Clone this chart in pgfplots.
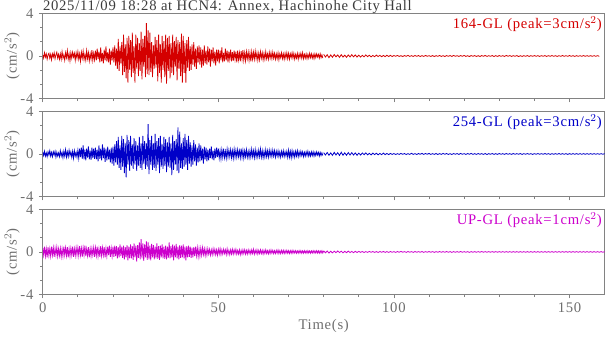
\documentclass[border=0pt]{standalone}
\usepackage{fontspec}
\setmainfont{Liberation Serif}[LetterSpace=5]
\usepackage{pgfplots}
\pgfplotsset{compat=1.18}
\definecolor{trred}{RGB}{212,0,0}
\definecolor{trblue}{RGB}{0,0,200}
\definecolor{trmag}{RGB}{204,0,204}
\definecolor{axgray}{RGB}{130,130,130}
\definecolor{lblgray}{RGB}{110,110,110}
\definecolor{ttlgray}{RGB}{60,60,60}
\pgfplotsset{
  panel/.style={
    scale only axis, width=421.5pt, height=63.75pt,
    xmin=0, xmax=160, ymin=-4, ymax=4,
    xtick={0,50,100,150}, minor x tick num=4,
    ytick={-4,0,4}, minor y tick num=2,
    xtick pos=bottom, ytick pos=left, tick align=outside,
    major tick length=3pt, minor tick length=2pt,
    axis line style={axgray, line width=0.6pt},
    every tick/.style={axgray, line width=0.6pt},
    tick label style={font=\fontsize{11}{12}\selectfont, text=lblgray},
    yticklabel style={xshift=-0.5pt},
    /pgf/number format/assume math mode=true,
    ylabel={(cm/s$^{2}$)},
    ylabel style={font=\fontsize{11}{12}\selectfont, text=lblgray, at={(axis description cs:-0.0546,0.5)}, anchor=center},
    clip mode=individual,
  },
}
\begin{document}
\begin{tikzpicture}
% ---------- Panel 1: 164-GL ----------
\begin{axis}[panel, at={(0,0)}, anchor=north west, xticklabels={}]
\addplot[trred, line width=0.6pt] table[x expr=\coordindex*0.25, y index=0, header=false] {
0.1
-0.2
0.3
-0.1
0.2
-0.3
0.1
0.25
-0.2
0.15
-0.35
0.2
-0.1
0.3
-0.25
0.1
0.35
-0.2
0.15
-0.3
0.2
-0.3
0.4
-0.2
0.1
-0.4
0.3
-0.15
0.5
-0.3
0.2
-0.45
0.3
-0.2
0.35
-0.1
0.25
-0.4
0.3
-0.2
0.4
-0.3
0.2
-0.5
0.35
-0.2
0.45
-0.35
0.15
-0.4
0.5
-0.25
0.3
-0.45
0.2
-0.3
0.55
-0.4
0.25
-0.35
0.5
-0.4
0.7
-0.3
0.4
-0.6
0.8
-0.5
0.3
-0.7
0.6
-0.4
0.9
-0.5
0.35
-0.6
0.7
-0.8
0.5
-0.4
0.8
-0.6
1.0
-0.9
0.7
-1.2
1.6
-1.4
0.9
-0.7
1.3
-1.8
2.0
-1.5
1.1
-2.1
1.7
-2.5
1.9
-1.3
1.5
-2.0
2.2
-1.6
0.9
-2.5
2.0
-1.2
1.7
-1.9
1.2
-1.4
2.3
-2.2
1.6
-1.0
1.9
-2.0
3.1
-1.7
2.4
-1.8
2.2
-1.5
1.3
-2.0
1.0
-1.2
1.8
-1.1
1.5
-2.4
2.0
-1.6
1.1
-2.5
1.9
-1.3
1.4
-2.0
2.0
-2.6
1.7
-1.4
1.9
-2.1
1.2
-1.6
2.0
-1.8
1.4
-1.0
1.8
-2.3
1.5
-1.2
1.3
-1.9
2.1
-2.5
1.9
-1.6
1.2
-2.5
1.5
-1.1
1.8
-1.4
0.9
-1.3
1.1
-0.8
1.3
-1.0
0.7
-1.2
0.9
-0.6
1.0
-0.8
0.8
-1.1
0.6
-0.9
1.0
-0.7
0.5
-0.8
0.9
-0.6
0.7
-1.0
0.6
-0.5
0.8
-0.7
0.4
-0.9
0.6
-0.5
0.6
-0.7
0.5
-0.4
0.8
-0.6
0.3
-0.5
0.7
-0.4
0.5
-0.6
0.4
-0.3
0.6
-0.5
0.35
-0.45
0.5
-0.3
0.4
-0.6
0.5
-0.35
0.3
-0.5
0.45
-0.3
0.55
-0.4
0.3
-0.45
0.4
-0.25
0.35
-0.4
0.3
-0.5
0.4
-0.3
0.35
-0.3
0.45
-0.25
0.3
-0.4
0.25
-0.35
0.4
-0.2
0.3
-0.35
0.25
-0.3
0.4
-0.25
0.2
-0.3
0.35
-0.2
0.3
-0.25
0.35
-0.2
0.25
-0.3
0.2
-0.25
0.3
-0.35
0.2
-0.15
0.3
-0.25
0.2
-0.3
0.25
-0.2
0.3
-0.25
0.25
-0.3
0.2
-0.15
0.3
-0.2
0.25
-0.3
0.15
-0.2
0.25
-0.3
0.2
-0.15
0.25
-0.2
0.3
-0.25
0.15
-0.2
0.2
-0.25
0.15
-0.2
0.25
-0.15
0.2
-0.2
0.15
-0.25
0.2
-0.15
0.2
-0.1
0.15
-0.2
0.2
-0.15
0.1
-0.2
};
\addplot[trred, line width=0.6pt] table[x expr=80+\coordindex*0.5, y index=0, header=false] {
0.15
-0.1
0.12
-0.16
0.1
-0.12
0.14
-0.08
0.1
-0.13
0.12
-0.1
0.08
-0.12
0.1
-0.09
0.12
-0.08
0.1
-0.1
0.08
-0.1
0.06
-0.08
0.1
-0.06
0.07
-0.08
0.05
-0.07
0.08
-0.05
0.06
-0.07
0.05
-0.06
0.07
-0.05
0.06
-0.05
0.04
-0.03
0.05
-0.04
0.03
-0.05
0.04
-0.03
0.06
-0.04
0.03
-0.04
0.05
-0.03
0.04
-0.05
0.03
-0.04
0.05
-0.03
0.03
-0.04
0.04
-0.05
0.03
-0.03
0.05
-0.04
0.03
-0.05
0.04
-0.03
0.04
-0.04
0.05
-0.03
0.03
-0.04
0.04
-0.03
0.05
-0.04
0.03
-0.05
0.04
-0.03
0.04
-0.04
0.03
-0.05
0.04
-0.03
0.05
-0.04
0.03
-0.03
0.04
-0.05
0.03
-0.04
0.04
-0.03
0.03
-0.04
0.05
-0.03
0.04
-0.04
0.03
-0.03
0.04
-0.05
0.03
-0.04
0.03
-0.03
0.04
-0.04
0.03
-0.03
0.04
-0.03
0.03
-0.04
0.03
-0.03
0.04
-0.04
0.03
-0.03
0.04
-0.03
0.03
-0.04
0.03
-0.03
0.04
-0.03
0.03
-0.03
0.04
-0.03
0.03
-0.04
0.03
-0.03
0.03
-0.03
0.04
-0.03
0.03
-0.03
0.03
-0.03
0.03
-0.03
0.03
-0.03
};
\node[anchor=north east, text=trred, font=\fontsize{11}{12}\selectfont, inner sep=2pt] at (rel axis cs:1,1) {164-GL (peak=3cm/s$^{2}$)};
\node[anchor=base west, text=ttlgray, font=\fontsize{11}{12}\selectfont, inner sep=0pt, yshift=2.5pt] at (rel axis cs:0,1) {2025/11/09 18:28 at HCN4: Annex, Hachinohe City Hall};
\end{axis}
% ---------- Panel 2: 254-GL ----------
\begin{axis}[panel, at={(0,-73.5pt)}, anchor=north west, xticklabels={}]
\addplot[trblue, line width=0.6pt] table[x expr=\coordindex*0.25, y index=0, header=false] {
0.2
-0.15
0.25
-0.2
0.1
-0.25
0.2
-0.1
0.3
-0.2
0.15
-0.25
0.2
-0.1
0.25
-0.3
0.15
-0.2
0.1
-0.25
0.3
-0.2
0.15
-0.35
0.25
-0.2
0.4
-0.3
0.2
-0.25
0.35
-0.15
0.2
-0.3
0.25
-0.4
0.3
-0.2
0.15
-0.3
0.35
-0.4
0.5
-0.3
0.6
-0.45
0.8
-0.5
0.4
-0.6
0.5
-0.35
0.7
-0.5
0.3
-0.55
0.6
-0.4
0.5
-0.45
0.6
-0.5
0.4
-0.7
0.8
-0.45
0.5
-0.6
0.9
-0.4
0.6
-0.75
0.5
-0.6
0.7
-0.5
0.4
-0.8
0.6
-0.9
0.7
-1.1
0.9
-0.8
1.2
-1.0
1.6
-1.3
0.8
-1.5
1.7
-1.2
1.4
-1.8
1.0
-2.2
1.8
-1.0
1.3
-1.6
1.7
-1.1
0.9
-1.4
1.5
-1.0
1.2
-1.6
0.8
-1.1
1.6
-1.3
1.0
-1.5
1.7
-0.9
1.2
-1.4
1.0
-1.2
2.8
-1.9
1.3
-1.0
1.7
-1.5
1.0
-1.3
1.9
-1.6
1.2
-1.0
1.5
-1.8
1.7
-1.2
0.9
-1.4
1.6
-1.1
1.4
-1.7
1.1
-1.2
1.6
-1.3
1.0
-2.0
1.8
-1.5
1.2
-1.0
1.4
-1.6
2.5
-1.8
2.1
-1.3
1.0
-1.4
1.5
-1.2
1.9
-1.0
1.3
-1.5
1.7
-0.9
1.1
-1.2
0.8
-1.0
1.3
-0.7
0.9
-1.1
0.6
-0.8
1.0
-0.7
0.8
-0.6
0.5
-0.9
0.7
-0.5
0.6
-0.7
0.4
-0.6
0.5
-0.4
0.7
-0.5
0.3
-0.6
0.5
-0.4
0.6
-0.3
0.5
-0.4
0.3
-0.45
0.4
-0.3
0.5
-0.35
0.25
-0.4
0.45
-0.3
0.35
-0.25
0.4
-0.35
0.3
-0.4
0.45
-0.3
0.35
-0.3
0.4
-0.25
0.3
-0.35
0.5
-0.3
0.35
-0.4
0.3
-0.25
0.4
-0.3
0.25
-0.35
0.3
-0.3
0.45
-0.25
0.3
-0.35
0.4
-0.3
0.25
-0.3
0.35
-0.25
0.45
-0.3
0.3
-0.35
0.25
-0.3
0.4
-0.25
0.3
-0.3
0.35
-0.2
0.3
-0.25
0.35
-0.2
0.3
-0.3
0.25
-0.2
0.3
-0.25
0.2
-0.3
0.25
-0.2
0.3
-0.25
0.2
-0.2
0.25
-0.3
0.35
-0.3
0.25
-0.35
0.3
-0.25
0.2
-0.3
0.25
-0.2
0.3
-0.25
0.2
-0.2
0.25
-0.15
0.2
-0.25
0.15
-0.2
0.2
-0.15
0.25
-0.2
0.15
-0.2
0.2
-0.15
0.2
-0.2
0.15
-0.15
0.2
-0.1
0.15
-0.2
0.15
-0.15
0.1
-0.15
};
\addplot[trblue, line width=0.6pt] table[x expr=80+\coordindex*0.5, y index=0, header=false] {
0.12
-0.1
0.14
-0.12
0.1
-0.13
0.15
-0.1
0.12
-0.14
0.16
-0.12
0.1
-0.12
0.13
-0.1
0.12
-0.1
0.1
-0.12
0.08
-0.1
0.09
-0.07
0.1
-0.08
0.06
-0.09
0.08
-0.06
0.07
-0.08
0.05
-0.07
0.08
-0.06
0.05
-0.06
0.05
-0.04
0.04
-0.05
0.03
-0.04
0.05
-0.03
0.04
-0.05
0.03
-0.04
0.06
-0.04
0.03
-0.05
0.04
-0.03
0.05
-0.04
0.04
-0.03
0.05
-0.04
0.03
-0.04
0.04
-0.05
0.03
-0.04
0.05
-0.03
0.04
-0.04
0.03
-0.05
0.04
-0.03
0.04
-0.04
0.05
-0.03
0.03
-0.04
0.04
-0.03
0.05
-0.04
0.03
-0.04
0.04
-0.03
0.03
-0.04
0.04
-0.05
0.03
-0.03
0.04
-0.04
0.03
-0.04
0.04
-0.03
0.03
-0.04
0.04
-0.03
0.03
-0.04
0.04
-0.03
0.03
-0.03
0.04
-0.04
0.03
-0.03
0.04
-0.03
0.03
-0.04
0.03
-0.03
0.04
-0.03
0.03
-0.03
0.04
-0.03
0.03
-0.04
0.03
-0.03
0.03
-0.03
0.04
-0.03
0.03
-0.03
0.03
-0.04
0.03
-0.03
0.03
-0.03
0.03
-0.03
0.03
-0.03
0.03
-0.03
0.03
-0.03
0.03
-0.03
0.03
-0.03
0.03
-0.03
0.03
-0.03
0.03
-0.03
0.03
-0.03
0.03
-0.03
0.03
-0.03
0.03
-0.03
0.03
-0.03
0.03
-0.03
0.03
-0.03
0.03
-0.03
0.03
-0.03
0.03
-0.03
0.03
-0.03
};
\node[anchor=north east, text=trblue, font=\fontsize{11}{12}\selectfont, inner sep=2pt] at (rel axis cs:1,1) {254-GL (peak=3cm/s$^{2}$)};
\end{axis}
% ---------- Panel 3: UP-GL ----------
\begin{axis}[panel, at={(0,-147pt)}, anchor=north west, xlabel={Time(s)},
  xlabel style={font=\fontsize{11}{12}\selectfont, text=lblgray, yshift=2pt}]
\addplot[trmag, line width=0.6pt] table[x expr=\coordindex*0.25, y index=0, header=false] {
0.4
-0.3
0.5
-0.4
0.3
-0.5
0.45
-0.35
0.3
-0.4
0.5
-0.3
0.4
-0.45
0.35
-0.3
0.45
-0.4
0.3
-0.35
0.35
-0.45
0.3
-0.4
0.5
-0.3
0.4
-0.35
0.45
-0.5
0.3
-0.4
0.35
-0.3
0.5
-0.45
0.3
-0.35
0.4
-0.3
0.4
-0.35
0.55
-0.3
0.35
-0.45
0.4
-0.3
0.6
-0.4
0.3
-0.35
0.45
-0.5
0.3
-0.4
0.35
-0.3
0.4
-0.45
0.4
-0.35
0.5
-0.4
0.3
-0.45
0.55
-0.35
0.4
-0.3
0.45
-0.5
0.35
-0.4
0.5
-0.3
0.6
-0.45
0.35
-0.4
0.5
-0.45
0.6
-0.4
0.55
-0.6
0.45
-0.5
0.7
-0.4
0.5
-0.55
0.6
-0.7
0.45
-0.5
0.65
-0.8
0.5
-0.6
0.7
-0.6
0.55
-0.75
0.8
-0.5
0.6
-0.9
0.65
-0.55
0.9
-0.7
1.2
-0.6
0.8
-0.85
0.7
-0.5
1.0
-0.75
0.9
-0.7
0.6
-0.8
0.75
-0.5
0.65
-0.7
0.5
-0.6
0.8
-0.65
0.55
-0.75
0.6
-0.5
0.7
-0.6
0.5
-0.65
0.6
-0.7
0.5
-0.55
0.9
-0.6
0.55
-0.5
0.7
-0.8
0.6
-0.5
0.75
-0.6
0.5
-0.7
0.65
-0.55
0.6
-0.5
0.7
-0.6
0.5
-0.8
0.55
-0.5
0.6
-0.45
0.5
-0.55
0.4
-0.5
0.45
-0.4
0.5
-0.35
0.4
-0.45
0.3
-0.4
0.35
-0.3
0.4
-0.25
0.3
-0.35
0.25
-0.3
0.3
-0.2
0.25
-0.3
0.2
-0.25
0.3
-0.2
0.25
-0.25
0.2
-0.3
0.25
-0.2
0.3
-0.25
0.2
-0.2
0.25
-0.15
0.2
-0.25
0.3
-0.2
0.15
-0.25
0.2
-0.2
0.25
-0.2
0.2
-0.15
0.25
-0.2
0.15
-0.2
0.2
-0.25
0.15
-0.2
0.2
-0.15
0.2
-0.2
0.15
-0.2
0.2
-0.15
0.15
-0.2
0.2
-0.15
0.25
-0.2
0.15
-0.15
0.2
-0.2
0.15
-0.15
0.2
-0.15
0.15
-0.2
0.15
-0.15
0.2
-0.15
0.12
-0.18
0.15
-0.15
0.18
-0.12
0.15
-0.15
0.12
-0.15
0.15
-0.12
0.18
-0.15
0.12
-0.15
0.15
-0.12
0.15
-0.15
0.12
-0.12
0.15
-0.12
0.12
-0.15
0.12
-0.12
0.15
-0.12
0.12
-0.1
0.12
-0.12
0.1
-0.12
0.12
-0.1
0.12
-0.12
0.1
-0.12
0.12
-0.1
0.1
-0.12
0.12
-0.1
0.1
-0.12
0.1
-0.1
0.12
-0.1
0.1
-0.1
0.12
-0.1
0.1
-0.12
0.1
-0.1
0.12
-0.1
0.1
};
\addplot[trmag, line width=0.6pt] table[x expr=80+\coordindex*0.5, y index=0, header=false] {
0.1
-0.08
0.09
-0.1
0.07
-0.09
0.08
-0.07
0.09
-0.06
0.07
-0.08
0.06
-0.07
0.08
-0.06
0.05
-0.07
0.06
-0.05
0.05
-0.04
0.04
-0.05
0.03
-0.04
0.05
-0.03
0.04
-0.04
0.03
-0.05
0.04
-0.03
0.04
-0.04
0.03
-0.04
0.04
-0.03
0.03
-0.04
0.04
-0.03
0.05
-0.03
0.03
-0.04
0.04
-0.03
0.03
-0.04
0.04
-0.03
0.03
-0.03
0.04
-0.04
0.03
-0.03
0.04
-0.03
0.03
-0.04
0.03
-0.03
0.04
-0.03
0.03
-0.03
0.04
-0.03
0.03
-0.04
0.03
-0.03
0.03
-0.03
0.04
-0.03
0.03
-0.03
0.03
-0.04
0.03
-0.03
0.03
-0.03
0.03
-0.03
0.04
-0.03
0.03
-0.03
0.03
-0.03
0.03
-0.03
0.03
-0.03
0.03
-0.03
0.03
-0.03
0.03
-0.03
0.03
-0.03
0.03
-0.03
0.03
-0.03
0.03
-0.03
0.03
-0.03
0.03
-0.03
0.03
-0.03
0.03
-0.03
0.03
-0.03
0.03
-0.03
0.03
-0.03
0.03
-0.03
0.03
-0.03
0.03
-0.03
0.03
-0.03
0.03
-0.03
0.03
-0.03
0.03
-0.03
0.03
-0.03
0.03
-0.03
0.03
-0.03
0.03
-0.03
0.03
-0.03
0.03
-0.03
0.03
-0.03
0.03
-0.03
0.03
-0.03
0.03
-0.03
};
\node[anchor=north east, text=trmag, font=\fontsize{11}{12}\selectfont, inner sep=2pt] at (rel axis cs:1,1) {UP-GL (peak=1cm/s$^{2}$)};
\end{axis}
\end{tikzpicture}
\end{document}
